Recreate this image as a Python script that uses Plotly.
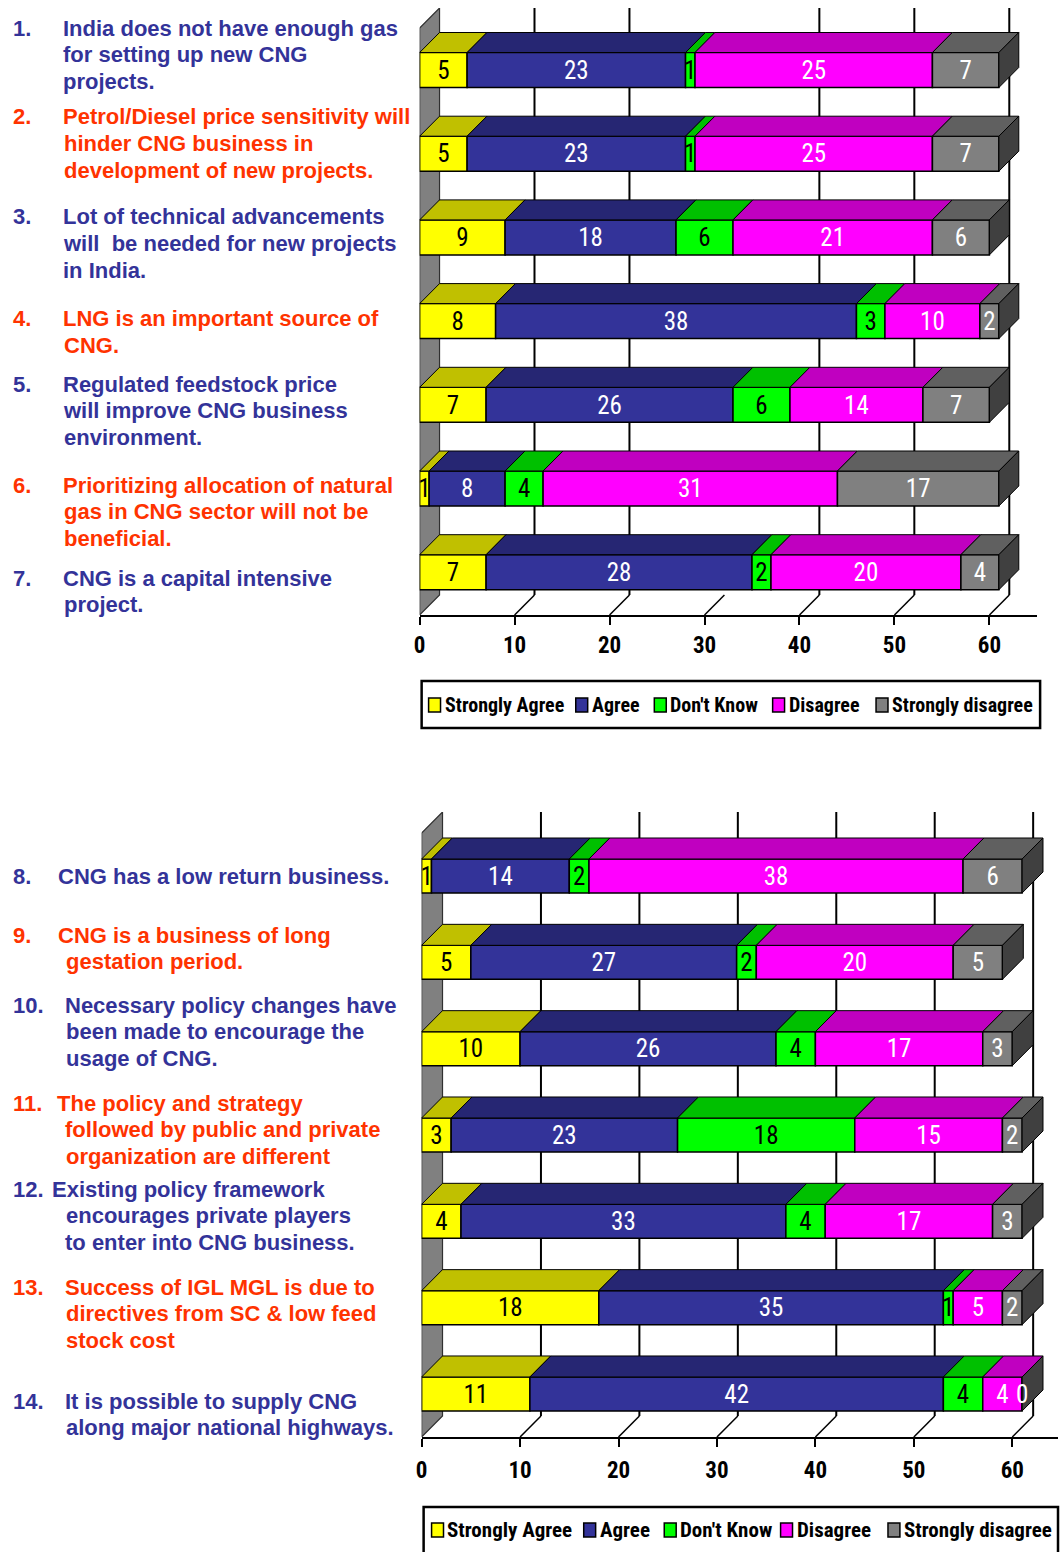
import plotly.graph_objects as go

W, H = 1060, 1552

series_names = ["Strongly Agree", "Agree", "Don't Know", "Disagree", "Strongly disagree"]
face_colors = ["#FFFF00", "#333399", "#00FF00", "#FF00FF", "#808080"]
top_colors = ["#C0C000", "#262673", "#00C000", "#C000C0", "#606060"]
end_color = "#404040"
value_font_colors = ["#000000", "#FFFFFF", "#000000", "#FFFFFF", "#FFFFFF"]

# Responses, statements 1-7
strongly_agree_a = [5, 5, 9, 8, 7, 1, 7]
agree_a = [23, 23, 18, 38, 26, 8, 28]
dont_know_a = [1, 1, 6, 3, 6, 4, 2]
disagree_a = [25, 25, 21, 10, 14, 31, 20]
strongly_disagree_a = [7, 7, 6, 2, 7, 17, 4]

# Responses, statements 8-14
strongly_agree_b = [1, 5, 10, 3, 4, 18, 11]
agree_b = [14, 27, 26, 23, 33, 35, 42]
dont_know_b = [2, 2, 4, 18, 4, 1, 4]
disagree_b = [38, 20, 17, 15, 17, 5, 4]
strongly_disagree_b = [6, 5, 3, 2, 3, 2, 0]

numbers_a = [1, 2, 3, 4, 5, 6, 7]
statements_a = [
    ["India does not have enough gas", "for setting up new CNG", "projects."],
    ["Petrol/Diesel price sensitivity will", "hinder CNG business in", "development of new projects."],
    ["Lot of technical advancements", "will  be needed for new projects", "in India."],
    ["LNG is an important source of", "CNG."],
    ["Regulated feedstock price", "will improve CNG business", "environment."],
    ["Prioritizing allocation of natural", "gas in CNG sector will not be", "beneficial."],
    ["CNG is a capital intensive", "project."],
]

numbers_b = [8, 9, 10, 11, 12, 13, 14]
statements_b = [
    ["CNG has a low return business."],
    ["CNG is a business of long", "gestation period."],
    ["Necessary policy changes have", "been made to encourage the", "usage of CNG."],
    ["The policy and strategy", "followed by public and private", "organization are different"],
    ["Existing policy framework", "encourages private players", "to enter into CNG business."],
    ["Success of IGL MGL is due to", "directives from SC & low feed", "stock cost"],
    ["It is possible to supply CNG", "along major national highways."],
]

tick_values = [0, 10, 20, 30, 40, 50, 60]
tick_labels = ["0", "10", "20", "30", "40", "50", "60"]

BLUE = "#333399"
RED = "#FF3300"
NARROW = "Liberation Sans Narrow, Arial Narrow, Roboto Condensed, DejaVu Sans Condensed, sans-serif"
SANS = "Liberation Sans, Arial, sans-serif"

panels = [
    dict(values=[strongly_agree_a, agree_a, dont_know_a, disagree_a, strongly_disagree_a],
         statements=statements_a, numbers=numbers_a, xa="x", ya="y",
         x0=416, ppu=9.55, x1=1037, floor=615, top=8, first=70, step=83.7,
         bar_px=35, depth=20, grid=[10, 20, 40, 50, 60], standoff=0,
         box=(418, 681, 1040, 728), leg_y=705, leg_font=20,
         leg_sq=[425, 573, 652, 771, 875],
         rows=[(28, [62, 62, 62]), (117, [62, 63, 63]), (217, [62, 62, 62]),
               (319, [62, 63]), (384, [62, 62, 63]), (485, [62, 63, 63]),
               (578, [62, 63])]),
    dict(values=[strongly_agree_b, agree_b, dont_know_b, disagree_b, strongly_disagree_b],
         statements=statements_b, numbers=numbers_b, xa="x2", ya="y2",
         x0=418, ppu=9.9, x1=1058, floor=1437, top=812, first=876, step=86.33,
         bar_px=34, depth=21, grid=[10, 20, 30, 40, 50, 60], standoff=3,
         box=(420, 1507, 1058, 1560), leg_y=1530, leg_font=21,
         leg_sq=[428, 581, 662, 779, 887],
         rows=[(876, [57]), (935, [57, 65]), (1005, [64, 65, 65]),
               (1103, [56, 64, 65]), (1189, [51, 65, 64]), (1287, [64, 65, 65]),
               (1401, [64, 65])]),
]

LINE_GAP = 26.7
TEXT_NUDGE = -7   # annotation boxes carry a little left padding
NUMBER_X = 12

fig = go.Figure()
shapes = []
annotations = []


def px_x(px):
    return px / W


def px_y(py):
    return 1 - py / H


for pi, p in enumerate(panels):
    n = len(p["values"][0])
    yv = [n - 1 - i for i in range(n)]
    last = p["first"] + (n - 1) * p["step"]
    y_lo = -(p["floor"] - last) / p["step"]
    y_hi = (last - p["top"]) / p["step"]
    bw = p["bar_px"] / p["step"]
    dxu = p["depth"] / p["ppu"]
    dyu = p["depth"] / p["step"]
    xmax = (p["x1"] - p["x0"]) / p["ppu"]
    xa, ya = p["xa"], p["ya"]
    suffix = "" if pi == 0 else str(pi + 1)

    # left wall of the 3-D frame
    shapes.append(dict(
        type="path", xref=xa, yref=ya, layer="below",
        path=f"M 0,{y_lo} L 0,{y_hi - dyu} L {dxu},{y_hi} L {dxu},{y_lo + dyu} Z",
        fillcolor="#808080", line=dict(color="#303030", width=1.2)))
    # back-wall gridlines
    for v in p["grid"]:
        shapes.append(dict(type="line", xref=xa, yref=ya, layer="below",
                           x0=v + dxu, x1=v + dxu, y0=y_lo + dyu, y1=y_hi,
                           line=dict(color="black", width=2)))
    # floor tick marks running into depth
    for v in tick_values[1:]:
        shapes.append(dict(type="line", xref=xa, yref=ya, layer="below",
                           x0=v, x1=v + dxu, y0=y_lo, y1=y_lo + dyu,
                           line=dict(color="black", width=1.5)))

    starts = [0] * n
    label_x, label_y, label_t, label_c = [], [], [], []
    label_drop = 2.5 / p["step"]
    for k, vals in enumerate(p["values"]):
        fig.add_trace(go.Bar(
            orientation="h", x=vals, y=yv, base=starts, width=bw,
            marker=dict(color=face_colors[k], line=dict(color="black", width=1.5)),
            xaxis=xa, yaxis=ya, showlegend=False, hoverinfo="skip"))
        xs, ys = [], []
        for i in range(n):
            a = starts[i]
            b = a + vals[i]
            yt = yv[i] + bw / 2
            xs += [a, b, b + dxu, a + dxu, a, None]
            ys += [yt, yt, yt + dyu, yt + dyu, yt, None]
        fig.add_trace(go.Scatter(
            x=xs, y=ys, mode="lines", fill="toself", fillcolor=top_colors[k],
            line=dict(color="black", width=1), xaxis=xa, yaxis=ya,
            showlegend=False, hoverinfo="skip"))
        for i in range(n):
            label_x.append(starts[i] + vals[i] / 2)
            label_y.append(yv[i] - label_drop)
            label_t.append(str(vals[i]))
            label_c.append(value_font_colors[k])
        starts = [s + v for s, v in zip(starts, vals)]

    # right-hand end faces
    xs, ys = [], []
    for i in range(n):
        t = starts[i]
        yb = yv[i] - bw / 2
        yt = yv[i] + bw / 2
        xs += [t, t, t + dxu, t + dxu, t, None]
        ys += [yb, yt, yt + dyu, yb + dyu, yb, None]
    fig.add_trace(go.Scatter(
        x=xs, y=ys, mode="lines", fill="toself", fillcolor=end_color,
        line=dict(color="black", width=1), xaxis=xa, yaxis=ya,
        showlegend=False, hoverinfo="skip"))

    fig.add_trace(go.Scatter(
        x=label_x, y=label_y, mode="text", text=label_t,
        textfont=dict(family=NARROW, size=25, color=label_c),
        xaxis=xa, yaxis=ya, showlegend=False, hoverinfo="skip", cliponaxis=False))

    fig.layout["xaxis" + suffix] = dict(
        domain=[px_x(p["x0"]), px_x(p["x1"])], range=[0, xmax], anchor=ya,
        showgrid=False, zeroline=False, showline=True, linecolor="black", linewidth=2,
        ticks="outside", ticklen=8, tickwidth=2, tickcolor="black",
        tickvals=tick_values, ticktext=tick_labels, ticklabelstandoff=p["standoff"],
        tickfont=dict(family=NARROW, size=23, color="black", weight="bold"),
        fixedrange=True)
    fig.layout["yaxis" + suffix] = dict(
        domain=[px_y(p["floor"]), px_y(p["top"])], range=[y_lo, y_hi], anchor=xa,
        visible=False, fixedrange=True)

    # legend box
    bx0, by0, bx1, by1 = p["box"]
    shapes.append(dict(type="rect", xref="paper", yref="paper",
                       x0=px_x(bx0), x1=px_x(bx1), y0=px_y(by1), y1=px_y(by0),
                       fillcolor="white", line=dict(color="black", width=2.5)))
    ly = p["leg_y"]
    for k, name in enumerate(series_names):
        sx = p["leg_sq"][k]
        shapes.append(dict(type="rect", xref="paper", yref="paper",
                           x0=px_x(sx), x1=px_x(sx + 12), y0=px_y(ly + 7), y1=px_y(ly - 7),
                           fillcolor=face_colors[k], line=dict(color="black", width=1.5)))
        annotations.append(dict(
            x=px_x(sx + 14), y=px_y(ly), xref="paper", yref="paper",
            xanchor="left", yanchor="middle", showarrow=False, text=name,
            font=dict(family=NARROW, size=p["leg_font"], color="black", weight="bold")))

    # statement texts
    for j, (lines, num) in enumerate(zip(p["statements"], p["numbers"])):
        color = BLUE if j % 2 == 0 else RED
        y0, xs_line = p["rows"][j]
        annotations.append(dict(
            x=px_x(NUMBER_X + TEXT_NUDGE), y=px_y(y0), xref="paper", yref="paper",
            xanchor="left", yanchor="middle", showarrow=False, text=f"{num}.",
            font=dict(family=SANS, size=22, color=color, weight="bold")))
        for li, line in enumerate(lines):
            annotations.append(dict(
                x=px_x(xs_line[li] + TEXT_NUDGE), y=px_y(y0 + li * LINE_GAP),
                xref="paper", yref="paper",
                xanchor="left", yanchor="middle", showarrow=False, text=line,
                font=dict(family=SANS, size=22, color=color, weight="bold")))

fig.update_layout(
    width=W, height=H, autosize=False,
    margin=dict(l=0, r=0, t=0, b=0, pad=0),
    paper_bgcolor="white", plot_bgcolor="white",
    barmode="overlay", showlegend=False,
    shapes=shapes, annotations=annotations,
)

fig.write_html("out.html", config={"displayModeBar": False},
               post_script="document.body.style.margin='0';")
